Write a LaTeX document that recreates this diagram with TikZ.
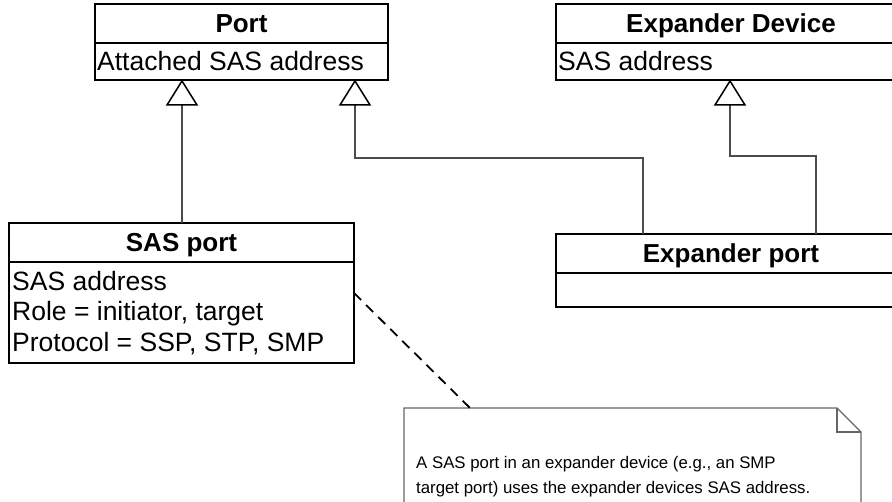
\documentclass[tikz,border=0pt]{standalone}
\usepackage{fontspec}
\setmainfont{Liberation Sans}
\begin{document}
\begin{tikzpicture}[x=1pt,y=-1pt,
  box/.style={draw=black,line width=1.6pt,anchor=north west,inner sep=0pt,outer sep=0pt},
  hdr/.style={box,font=\fontsize{26}{30}\selectfont\bfseries,text height=19pt,text depth=0pt},
  attrtext/.style={anchor=north west,inner sep=0pt,align=left,font=\fontsize{26.5}{30.5}\selectfont},
  conn/.style={draw=black!70,line width=1.1pt},
  gen/.style={draw=black,line width=1.5pt,fill=white},
  notetext/.style={anchor=north west,inner sep=0pt,align=left,font=\fontsize{16.8}{25}\selectfont}]
\useasboundingbox (0,0) rectangle (892,502);
% Port
\node[hdr,minimum width=293pt,minimum height=39pt] (portH) at (95,4) {Port};
\node[box,minimum width=293pt,minimum height=37pt] (portA) at (95,43) {};
\node[attrtext] (portT) at (97,51) {Attached SAS address};
% Expander Device
\node[hdr,minimum width=350pt,minimum height=39pt] (edH) at (556,4) {Expander Device};
\node[box,minimum width=350pt,minimum height=37pt] (edA) at (556,43) {};
\node[attrtext] (edT) at (558,51) {SAS address};
% SAS port
\node[hdr,minimum width=345pt,minimum height=39pt] (sasH) at (9,223) {SAS port};
\node[box,minimum width=345pt,minimum height=101pt] (sasA) at (9,262) {};
\node[attrtext] (sasT) at (12,271) {SAS address\\Role = initiator, target\\Protocol = SSP, STP, SMP};
% Expander port
\node[hdr,minimum width=350pt,minimum height=39pt] (epH) at (556,234) {Expander port};
\node[box,minimum width=350pt,minimum height=34pt] (epA) at (556,273) {};
% generalisation connectors
\coordinate (t1) at (182,81);
\coordinate (t2) at (355,81);
\coordinate (t3) at (730,81);
\draw[conn] (sasH.north -| t1) -- ([shift={(0,24)}]t1);
\draw[conn] (epH.north -| 643,0) -- (643,158) -- (355,158) -- ([shift={(0,24)}]t2);
\draw[conn] (epH.north -| 816,0) -- (816,156) -- (730,156) -- ([shift={(0,24)}]t3);
\foreach \t in {t1,t2,t3}
  \draw[gen] (\t) -- ([shift={(-15,24)}]\t) -- ([shift={(15,24)}]\t) -- cycle;
% note
\coordinate (n1) at (404,408);
\draw[draw=black!60,line width=1.3pt] (404,512) -- (n1) -- (837,408) -- (861,432) -- (861,512);
\draw[draw=black!60,line width=1.3pt] (837,408) -- (837,432) -- (861,432);
\node[notetext] (noteT) at (416,456) {A SAS port in an expander device (e.g., an SMP\\target port) uses the expander devices SAS address.};
\draw[black,line width=1.8pt,dash pattern=on 10pt off 7pt] (sasA.east |- 0,293) -- (470,408);
\end{tikzpicture}
\end{document}
